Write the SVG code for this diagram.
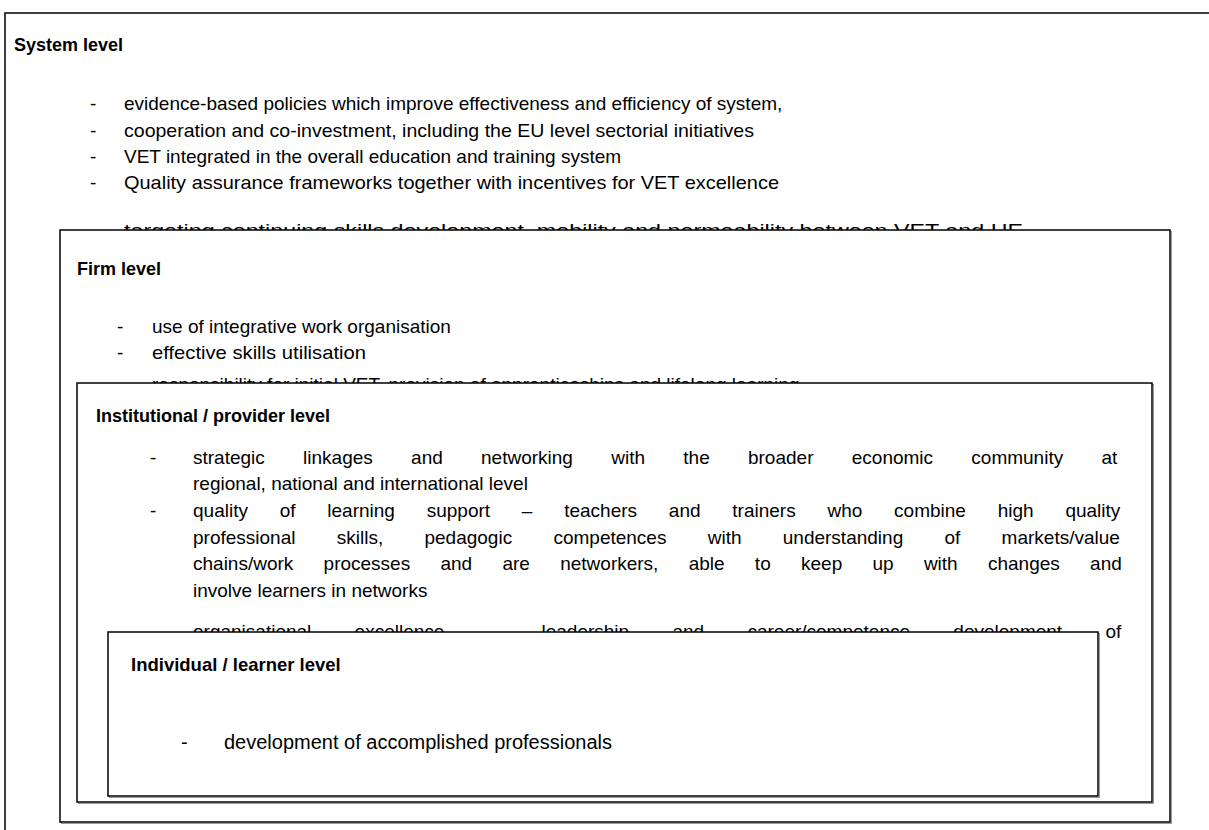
<svg xmlns="http://www.w3.org/2000/svg" width="1209" height="830" viewBox="0 0 1209 830">
<style>
.box{fill:#fff;stroke:#000;stroke-width:1.5}
.sh{fill:none;stroke:#999;stroke-width:1}
.t{font-family:"Liberation Sans",Arial,sans-serif;font-size:19px;fill:#000}
.h{font-family:"Liberation Sans",Arial,sans-serif;font-size:18px;font-weight:bold;fill:#000}
.j{font-family:"Liberation Sans",Arial,sans-serif;font-size:19px;fill:#000}
</style>
<rect width="1209" height="830" fill="#fff"/>
<g id="system">
<rect class="sh" x="6.5" y="14.5" width="1220" height="830"/>
<rect class="box" x="5" y="13" width="1220" height="830"/>
<text class="h" x="14" y="51">System level</text>
<text class="t" x="90" y="110">-</text><text class="t" x="124" y="110">evidence-based policies which improve effectiveness and efficiency of system,</text>
<text class="t" x="90" y="137">-</text><text class="t" x="124" y="137" textLength="630" lengthAdjust="spacingAndGlyphs">cooperation and co-investment, including the EU level sectorial initiatives</text>
<text class="t" x="90" y="163">-</text><text class="t" x="124" y="163">VET integrated in the overall education and training system</text>
<text class="t" x="90" y="189">-</text><text class="t" x="124" y="189" textLength="655" lengthAdjust="spacingAndGlyphs">Quality assurance frameworks together with incentives for VET excellence</text>
<text class="t" x="124" y="237" textLength="899" lengthAdjust="spacingAndGlyphs">targeting continuing skills development, mobility and permeability between VET and HE</text>
</g>
<g id="firm">
<rect class="sh" x="61.5" y="231.5" width="1110" height="592"/>
<rect class="box" x="60" y="230" width="1110" height="592"/>
<text class="h" x="77" y="275">Firm level</text>
<text class="t" x="117" y="333">-</text><text class="t" x="152" y="333">use of integrative work organisation</text>
<text class="t" x="117" y="359">-</text><text class="t" x="152" y="359" textLength="214" lengthAdjust="spacingAndGlyphs">effective skills utilisation</text>
<text class="t" x="152" y="391">responsibility for initial VET, provision of apprenticeships and lifelong learning</text>
</g>
<g id="institutional">
<rect class="sh" x="78.5" y="384.5" width="1075" height="419"/>
<rect class="box" x="77" y="383" width="1075" height="419"/>
<text class="h" x="96" y="422">Institutional / provider level</text>
<text class="t" x="150" y="464">-</text><text class="j" x="193" y="464" style="word-spacing:33px">strategic linkages and networking with the broader economic community at</text>
<text class="t" x="193" y="490">regional, national and international level</text>
<text class="t" x="150" y="517">-</text><text class="j" x="193" y="517" style="word-spacing:26.5px">quality of learning support – teachers and trainers who combine high quality</text>
<text class="j" x="193" y="544" style="word-spacing:36px">professional skills, pedagogic competences with understanding of markets/value</text>
<text class="j" x="193" y="570" style="word-spacing:25px">chains/work processes and are networkers, able to keep up with changes and</text>
<text class="t" x="193" y="597">involve learners in networks</text>
<text class="j" x="193" y="638" style="word-spacing:38px">organisational excellence – leadership and career/competence development of</text>
</g>
<g id="individual">
<rect class="sh" x="109.5" y="633.5" width="990" height="164"/>
<rect class="box" x="108" y="632" width="990" height="164"/>
<text class="h" x="131" y="671" style="font-size:18.5px">Individual / learner level</text>
<text class="t" x="181" y="749" style="font-size:20px">-</text><text class="t" x="224" y="749" style="font-size:20px">development of accomplished professionals</text>
</g>
<g id="connectors"></g>
</svg>
